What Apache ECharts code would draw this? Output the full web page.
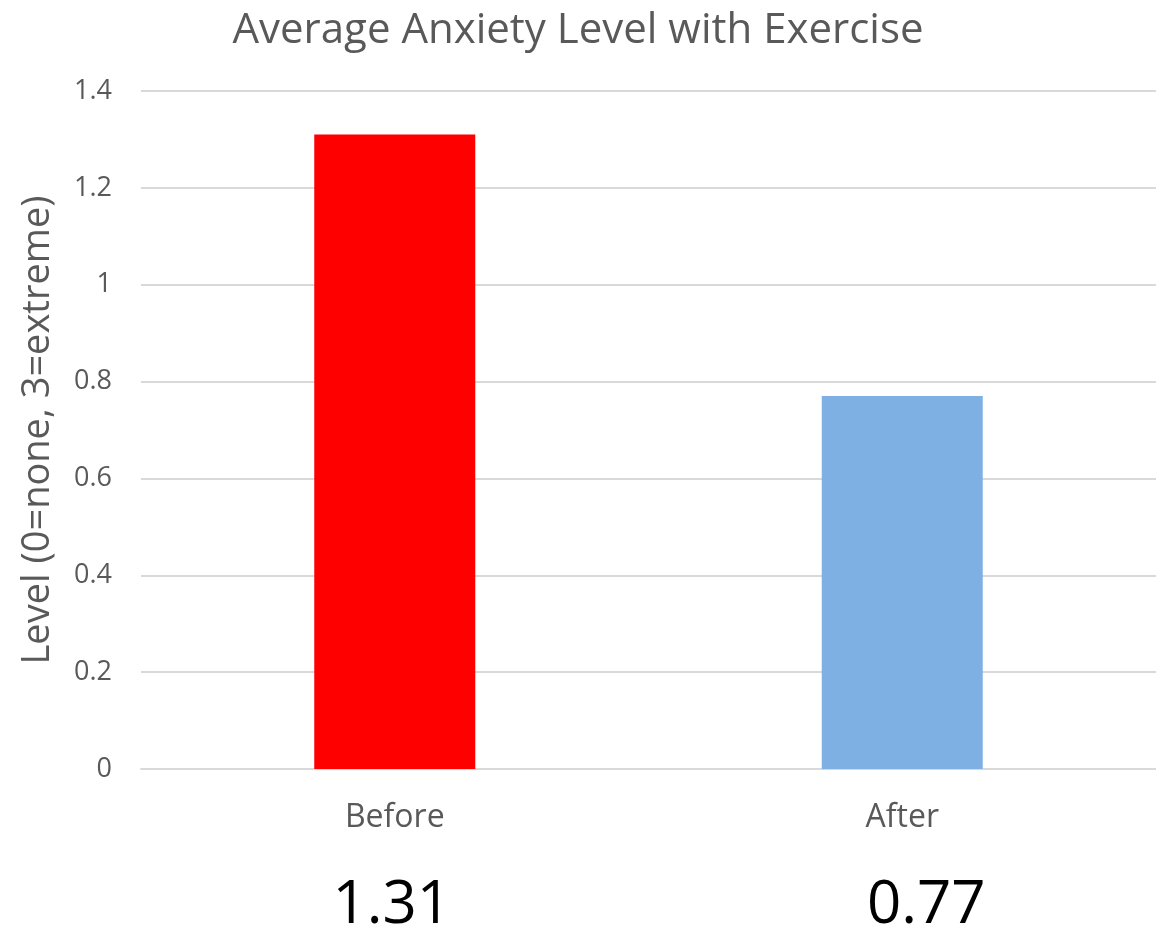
<!DOCTYPE html>
<html>
<head>
<meta charset="utf-8">
<title>Average Anxiety Level with Exercise</title>
<script src="https://cdn.jsdelivr.net/npm/echarts@6/dist/echarts.min.js"></script>
<style>
  html, body { margin: 0; padding: 0; background: #ffffff; }
  #chart { width: 1156px; height: 936px; }
</style>
</head>
<body>
<div id="chart"></div>
<script>
// Chart data
const categories = ['Before', 'After'];
const anxietyLevels = [1.31, 0.77];
const barColors = ['#ff0000', '#7fb0e4'];
const yTicks = [0, 0.2, 0.4, 0.6, 0.8, 1, 1.2, 1.4];

const sans = '"Open Sans", "Noto Sans", sans-serif';
const grey = '#595959';

const chart = echarts.init(document.getElementById('chart'), null, { renderer: 'canvas' });

chart.setOption({
  backgroundColor: '#ffffff',
  animation: false,
  title: {
    text: 'Average Anxiety Level with Exercise',
    left: 'center',
    top: 5,
    textStyle: { fontFamily: sans, fontWeight: 'normal', fontSize: 42, color: grey }
  },
  grid: { left: 141, right: -2, top: 91, height: 684, containLabel: false },
  xAxis: {
    type: 'category',
    data: categories,
    axisLine: { show: true, lineStyle: { color: '#d9d9d9', width: 2 } },
    axisTick: { show: false },
    axisLabel: {
      margin: 29,
      // category name on the first line, its value in large type below it
      formatter: (value, index) => '{cat|' + value + '}\n{v' + index + '|' + anxietyLevels[index].toFixed(2) + '}',
      rich: {
        cat: { fontFamily: sans, fontSize: 32, color: grey, lineHeight: 40 },
        v0: { fontFamily: sans, fontSize: 60, color: '#000000', lineHeight: 136, padding: [0, 6, 0, 0] },
        v1: { fontFamily: sans, fontSize: 60, color: '#000000', lineHeight: 136, padding: [0, 0, 0, 48] }
      }
    }
  },
  yAxis: {
    type: 'value',
    min: yTicks[0],
    max: yTicks[yTicks.length - 1],
    interval: 0.2,
    name: 'Level (0=none, 3=extreme)',
    nameLocation: 'middle',
    nameGap: 84,
    nameTextStyle: { fontFamily: sans, fontSize: 38, color: grey },
    axisLine: { show: false },
    axisTick: { show: false },
    axisLabel: {
      margin: 29,
      fontFamily: sans,
      fontSize: 27,
      color: grey,
      formatter: v => String(Math.round(v * 10) / 10)
    },
    splitLine: { show: true, lineStyle: { color: '#d9d9d9', width: 2 } }
  },
  series: [{
    type: 'bar',
    barWidth: 161,
    data: anxietyLevels.map((v, i) => ({ value: v, itemStyle: { color: barColors[i] } }))
  }]
});
</script>
</body>
</html>
